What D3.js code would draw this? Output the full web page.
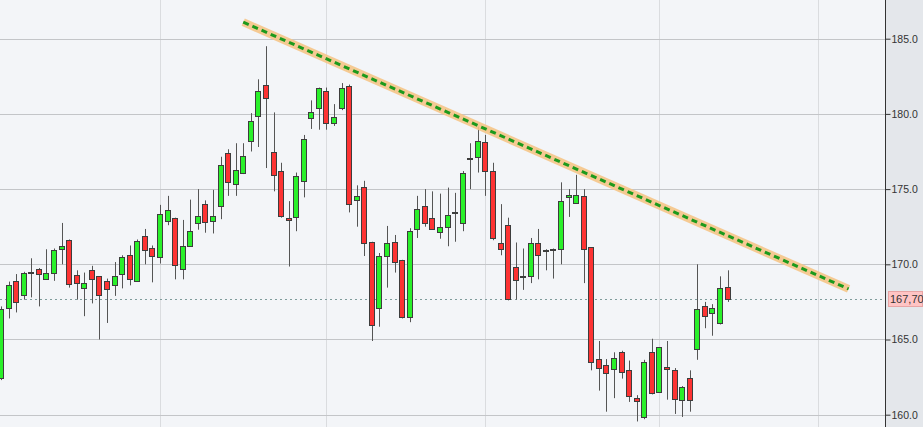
<!DOCTYPE html>
<html><head><meta charset="utf-8">
<script src="https://cdn.jsdelivr.net/npm/d3@7"></script>
<style>html,body{margin:0;padding:0;background:#f3f5f8;overflow:hidden}</style>
</head><body><svg id="c" width="923" height="427"></svg>
<script>
const opens  = [162.4,167.1,168.9,167.95,169.45,169.7,169.0,169.45,171.0,171.6,169.3,168.4,169.6,169.2,168.9,168.6,169.4,170.6,168.9,171.9,171.1,170.5,172.9,173.1,169.7,171.2,172.75,174.0,172.9,173.9,177.4,175.4,176.1,178.25,179.9,181.9,177.45,176.2,173.05,173.2,175.5,179.7,180.35,181.55,179.4,180.35,181.85,174.3,175.15,171.5,167.1,170.55,171.5,170.3,166.5,172.35,173.85,173.05,172.2,172.5,173.45,172.75,177.05,177.15,178.1,176.2,171.4,172.6,169.85,169.2,169.2,171.4,170.95,170.98,171.0,174.45,174.1,174.55,171.15,163.7,163.3,163.1,164.2,162.95,161.1,159.85,164.2,161.5,163.2,162.95,161.0,162.45,164.35,167.25,166.8,166.1,168.5];
const highs  = [167.2,168.85,169.35,169.5,170.4,169.75,171.0,171.05,172.75,171.65,169.6,169.45,169.9,169.2,169.05,170.15,170.6,171.25,171.65,172.35,171.25,173.95,174.55,173.1,172.95,174.3,175.0,174.25,174.95,177.15,177.65,178.05,178.05,180.05,182.3,184.5,180.1,176.75,174.2,176.1,178.6,180.9,181.75,181.75,180.65,182.05,181.95,175.25,175.55,171.5,170.75,172.55,171.95,170.3,172.4,174.55,175.0,174.85,174.7,175.1,174.75,176.2,178.05,179.15,178.6,176.75,174.0,173.1,171.45,171.05,171.75,172.35,171.0,171.05,175.45,175.0,175.95,175.0,171.15,164.9,163.7,164.15,164.25,163.6,161.3,163.65,165.05,164.5,164.9,163.1,161.9,162.95,170.0,167.5,167.35,169.2,169.6];
const lows   = [162.3,166.4,166.8,167.65,167.8,167.2,169.0,168.9,170.0,168.45,167.65,166.55,167.4,165.0,166.1,167.9,168.4,168.6,168.9,170.0,168.8,170.05,172.6,169.0,169.0,171.2,172.3,172.1,172.05,173.0,174.55,174.55,176.0,177.5,177.8,176.4,174.85,173.1,169.85,172.2,174.45,179.0,178.95,178.95,179.2,180.25,173.45,172.5,170.55,164.9,165.85,168.45,169.45,166.4,166.15,171.75,172.5,172.3,171.7,171.2,171.5,172.2,175.0,176.1,174.55,171.6,170.6,167.6,167.65,168.3,168.75,169.0,169.6,169.05,170.0,173.15,174.1,168.75,162.95,161.6,160.2,161.1,162.4,160.85,159.55,159.7,161.35,161.45,161.0,160.05,159.85,160.2,163.65,165.75,165.25,166.0,167.5];
const closes = [167.0,168.6,167.5,169.4,169.5,169.4,169.4,170.95,171.2,168.7,168.75,168.75,169.0,167.95,168.35,169.2,170.5,169.0,171.55,170.95,170.55,173.35,173.6,170.0,171.2,172.2,173.2,172.8,173.2,176.6,175.5,176.3,177.2,179.55,181.55,181.05,175.9,173.2,172.9,175.9,178.3,180.1,181.7,179.4,179.8,181.7,174.0,174.55,171.4,166.0,170.55,171.4,170.15,166.5,172.2,173.7,172.75,172.35,172.5,173.3,173.47,176.1,177.06,178.2,176.2,171.75,171.0,167.65,169.0,169.22,171.4,170.6,170.97,171.0,174.2,174.6,174.6,171.0,163.5,163.1,162.8,163.8,162.9,161.2,160.9,163.5,161.5,164.5,163.1,161.0,161.85,161.0,167.0,166.6,167.1,168.4,167.7];
const yTicks = [160,165,170,175,180,185];
const monthStarts = [21,43,64,87,108];
const trendIdx = [32,112];
const trendVal = [186.1,168.36];
const lastPrice = 167.70;
const lastLabel = "167,70";

const W = 923, H = 427, axisX = 885;
const svg = d3.select("#c");
const x = d3.scaleLinear().domain([-0.145, 116.81]).range([0, axisX]);
const y = d3.scaleLinear().domain([159.182, 187.573]).range([H, 0]);

svg.append("rect").attr("x",0).attr("y",0).attr("width",axisX).attr("height",H).attr("fill","#f3f5f8");
svg.append("rect").attr("x",axisX).attr("y",0).attr("width",W-axisX).attr("height",H).attr("fill","#e4e7eb");

svg.append("g").selectAll("line").data(monthStarts).join("line")
  .attr("x1",d=>Math.round(x(d))+0.5).attr("x2",d=>Math.round(x(d))+0.5)
  .attr("y1",0).attr("y2",H).attr("stroke","#dadcdf").attr("stroke-width",1);
svg.append("g").selectAll("line").data(yTicks).join("line")
  .attr("x1",0).attr("x2",axisX).attr("y1",d=>Math.round(y(d))+0.5).attr("y2",d=>Math.round(y(d))+0.5)
  .attr("stroke","#c3c5c8").attr("stroke-width",1);

svg.append("line").attr("x1",0).attr("x2",axisX)
  .attr("y1",Math.round(y(lastPrice))+0.5).attr("y2",Math.round(y(lastPrice))+0.5)
  .attr("stroke","#7f9c9c").attr("stroke-dasharray","2,3").attr("stroke-width",1);

const idx = d3.range(opens.length);
const g = svg.append("g");
g.selectAll("line.w").data(idx).join("line").attr("class","w")
  .attr("x1",i=>Math.round(x(i))+0.5).attr("x2",i=>Math.round(x(i))+0.5)
  .attr("y1",i=>y(highs[i])).attr("y2",i=>y(lows[i]))
  .attr("stroke","#555").attr("stroke-width",1);
g.selectAll("rect.b").data(idx).join("rect").attr("class","b")
  .attr("x",i=>Math.round(x(i))-2.5).attr("width",5)
  .attr("y",i=>Math.round(y(Math.max(opens[i],closes[i])))+0.5)
  .attr("height",i=>Math.max(1,Math.round(Math.abs(y(opens[i])-y(closes[i])))))
  .attr("fill",i=>closes[i]>=opens[i]?"#2af02a":"#fd3333")
  .attr("stroke","#3d3d3d").attr("stroke-width",1);

const tl = d3.line().x(d=>x(d[0])).y(d=>y(d[1]));
const tdata = trendIdx.map((d,i)=>[d,trendVal[i]]);
svg.append("path").attr("d",tl(tdata)).attr("stroke","#f5c587").attr("stroke-width",8).attr("fill","none").attr("stroke-opacity",0.9);
svg.append("path").attr("d",tl(tdata)).attr("stroke","#1c9a1c").attr("stroke-width",3).attr("fill","none").attr("stroke-dasharray","6,4");

svg.append("line").attr("x1",axisX+0.5).attr("x2",axisX+0.5).attr("y1",0).attr("y2",H).attr("stroke","#333");
const ax = svg.append("g").attr("transform",`translate(${axisX+0.5},0)`)
  .call(d3.axisRight(y).tickValues(yTicks).tickSize(5).tickPadding(1).tickFormat(d3.format(".1f")));
ax.select(".domain").remove();
ax.selectAll(".tick line").attr("stroke","#333");
ax.selectAll(".tick text").attr("fill","#333").attr("font-family","Liberation Sans, Arial, sans-serif").attr("font-size","10.5px");

const ly = y(lastPrice);
svg.append("rect").attr("x",888.5).attr("y",Math.round(ly)-7.5).attr("width",34).attr("height",15)
  .attr("fill","#ffc4c4").attr("stroke","#e8a4a4");
svg.append("text").attr("x",890).attr("y",ly+4).text(lastLabel)
  .attr("fill","#333").attr("font-family","Liberation Sans, Arial, sans-serif").attr("font-size","11px");
</script></body></html>
